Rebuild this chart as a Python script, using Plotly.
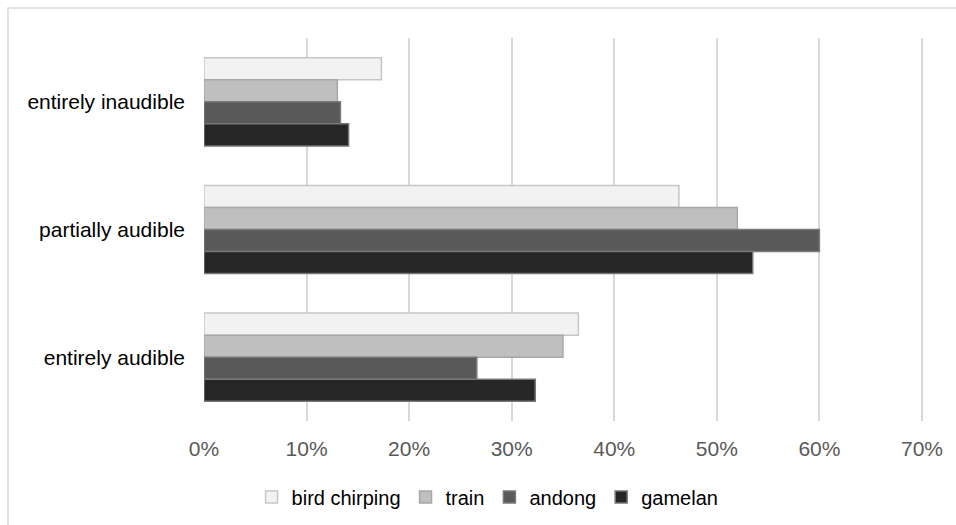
import plotly.graph_objects as go

# Audibility categories (top to bottom) and sound sources
categories = ["entirely inaudible", "partially audible", "entirely audible"]
series_names = ["bird chirping", "train", "andong", "gamelan"]

# Share of responses per category, in the same order as `categories`
bird_chirping = [0.173, 0.463, 0.365]
train = [0.130, 0.520, 0.350]
andong = [0.133, 0.600, 0.266]
gamelan = [0.141, 0.535, 0.323]

x_ticks = [0, 0.1, 0.2, 0.3, 0.4, 0.5, 0.6, 0.7]

values = [bird_chirping, train, andong, gamelan]
fills = ["#f2f2f2", "#bfbfbf", "#595959", "#262626"]
edges = ["#c6c6c6", "#a8a8a8", "#7a7a7a", "#767676"]

W, H = 956, 525
L, R, T, B = 204, 33, 38, 104

fig = go.Figure()
for name, vals, fc, ec in zip(series_names, values, fills, edges):
    fig.add_trace(go.Bar(
        name=name, y=categories, x=vals, orientation="h",
        marker=dict(color=fc, line=dict(color=ec, width=1.5)),
        hoverinfo="x+y",
    ))

font = "Liberation Sans, Arial, sans-serif"
pw = W - L - R
ph = H - T - B

fig.update_layout(
    width=W, height=H,
    margin=dict(l=L, r=R, t=T, b=B, pad=0),
    paper_bgcolor="white", plot_bgcolor="white",
    barmode="group", bargap=0.31, bargroupgap=0,
    font=dict(family=font, size=21, color="#000000"),
    xaxis=dict(
        range=[0, 0.701], tickvals=x_ticks, tickformat=".0%",
        showgrid=True, gridcolor="#d9d9d9", gridwidth=1.5,
        zeroline=False, showline=False, ticks="",
        tickfont=dict(family=font, size=21, color="#595959"),
        ticklabelstandoff=13,
    ),
    yaxis=dict(
        autorange="reversed", showgrid=False, zeroline=False,
        showline=False, ticks="",
        tickfont=dict(family=font, size=21, color="#000000"),
        ticklabelstandoff=18,
    ),
    legend=dict(
        orientation="h", xref="container", yref="container",
        x=0.51, xanchor="center", y=(H - 497) / H, yanchor="middle",
        font=dict(family=font, size=20, color="#000000"),
        traceorder="normal", itemwidth=30, bgcolor="rgba(0,0,0,0)",
    ),
    showlegend=True,
    shapes=[dict(
        type="rect", xref="paper", yref="paper",
        x0=(8 - L) / pw, x1=1.2, y0=-0.5, y1=1 + (T - 8) / ph,
        line=dict(color="#d9d9d9", width=1.5), fillcolor="rgba(0,0,0,0)",
        layer="below",
    )],
)

fig.write_html("out.html")
